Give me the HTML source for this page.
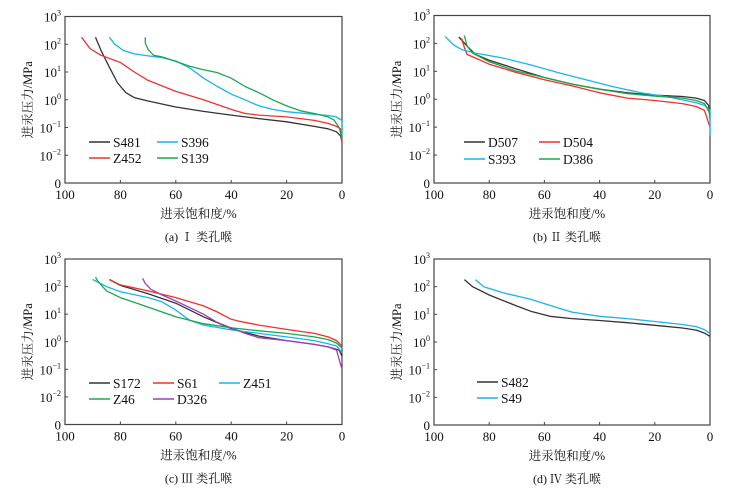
<!DOCTYPE html>
<html><head><meta charset="utf-8">
<style>
html,body{margin:0;padding:0;background:#fff;}
svg{display:block;}
</style></head>
<body>
<svg id="chart" width="755" height="490" viewBox="0 0 755 490" xmlns="http://www.w3.org/2000/svg"></svg>
<script>
// ---- data (saturation %, pressure MPa) ----
const xTicks = [100, 80, 60, 40, 20, 0];
const yTickExp = [3, 2, 1, 0, -1, -2];

const aNames = ["S481", "Z452", "S396", "S139"];
const aS481 = [[89,180],[87,60],[84,15],[81,4],[78,1.8],[75,1.2],[70,0.9],[60,0.55],[50,0.38],[40,0.28],[30,0.21],[20,0.16],[10,0.11],[5,0.09],[2,0.07],[0.5,0.05],[0,0.03]];
const aZ452 = [[94,180],[91,70],[87,40],[80,22],[75,10],[70,5],[60,2],[50,1],[40,0.45],[35,0.32],[30,0.28],[20,0.24],[10,0.18],[5,0.14],[2,0.11],[0.5,0.09],[0,0.025]];
const aS396 = [[84,180],[82,100],[79,60],[75,45],[70,38],[65,33],[60,25],[55,14],[50,6],[45,3],[40,1.6],[35,1],[30,0.6],[25,0.45],[20,0.37],[10,0.3],[5,0.27],[2,0.24],[0,0.18],[0,0.05]];
const aS139 = [[71,180],[71,110],[70,65],[68,40],[65,35],[60,24],[55,16],[50,12],[45,9.5],[40,6],[35,3],[30,1.8],[25,1],[20,0.6],[15,0.4],[10,0.32],[5,0.24],[3,0.19],[1,0.1],[0,0.04]];

const bNames = ["D507", "D504", "S393", "D386"];
const bD507 = [[91,170],[88,80],[85,40],[80,25],[70,12],[60,6],[50,3.5],[40,2.3],[30,1.7],[20,1.4],[10,1.25],[5,1.1],[2,0.9],[0.5,0.6],[0,0.2]];
const bD504 = [[90,150],[89,70],[88,40],[85,30],[80,18],[70,9],[60,5],[50,3],[40,1.7],[30,1.1],[20,0.9],[10,0.7],[5,0.55],[2,0.4],[0,0.1]];
const bS393 = [[96,180],[93,90],[90,60],[85,45],[75,30],[65,17],[55,9],[45,5],[35,2.8],[25,1.7],[15,1.2],[10,0.95],[5,0.75],[2,0.6],[0,0.4],[0,0.05]];
const bD386 = [[89,190],[88,80],[86,45],[80,22],[70,10],[60,6],[50,3.5],[40,2.3],[30,1.6],[20,1.3],[10,1.1],[5,0.9],[2,0.7],[0,0.3]];

const cNames = ["S172", "S61", "Z451", "Z46", "D326"];
const cS172 = [[84,180],[80,110],[70,55],[60,25],[50,8],[40,3],[30,1.6],[20,1.1],[10,0.8],[5,0.65],[1,0.5],[0,0.3]];
const cS61 = [[84,180],[80,115],[70,70],[60,40],[50,20],[45,12],[40,6.5],[37,5.5],[30,4],[20,2.8],[10,2],[5,1.5],[2,1.1],[0,0.7]];
const cZ451 = [[90,180],[85,100],[80,65],[70,40],[65,28],[60,14],[55,6],[50,4],[40,2.7],[30,2],[20,1.5],[10,1.1],[5,0.85],[2,0.7],[0,0.4]];
const cZ46 = [[89,220],[88,150],[85,70],[80,40],[70,18],[60,8],[50,4.5],[40,3.2],[30,2.5],[20,2],[10,1.5],[5,1.2],[2,0.9],[0,0.6]];
const cD326 = [[72,200],[71,130],[69,80],[65,50],[60,30],[50,10],[45,5],[40,3.2],[35,2],[30,1.4],[20,1.1],[10,0.8],[5,0.65],[2,0.5],[0,0.1]];

const dNames = ["S482", "S49"];
const dS482 = [[89,180],[86,100],[80,50],[70,20],[65,13],[58,8.5],[50,7],[40,6],[30,5],[20,4],[10,3.2],[5,2.7],[2,2.1],[0,1.6]];
const dS49 = [[85,180],[82,100],[75,60],[65,35],[55,17],[50,12],[40,8.5],[30,7],[20,5.5],[10,4.3],[5,3.6],[2,2.8],[0,2]];

const BLACK="#333", RED="#f0302a", CYAN="#18b4ec", GREEN="#1aa84e", PURPLE="#a040b0";
const SERIF='"Liberation Serif", "Noto Serif CJK SC", serif';
const svg = document.getElementById('chart');
const NS = "http://www.w3.org/2000/svg";
function el(tag, attrs, parent){const e=document.createElementNS(NS,tag);for(const k in attrs)e.setAttribute(k,attrs[k]);if(tag==='text'){e.setAttribute('font-family',SERIF);e.setAttribute('fill','#111');}(parent||svg).appendChild(e);return e;}

function panel(id, L, R, T, B, series, legend, caption){
  const g = el('g',{});
  
  
  const xs = v => L + (100 - v) / 100 * (R - L);
  const ys = p => { const lg = Math.max(Math.log10(p), -3); return B - (lg + 3) / 6 * (B - T); };
  const frame = el('rect',{x:L,y:T,width:R-L,height:B-T,fill:'none',stroke:'#444','stroke-width':1.2},g);
  
  
  xTicks.forEach(v=>{
    el('line',{x1:xs(v),x2:xs(v),y1:B,y2:B-3,stroke:'#444'},g);
    const t = el('text',{x:xs(v),y:B+16,'text-anchor':'middle','font-size':13},g);
    t.textContent = v;
    
    
  });
  yTickExp.forEach(e=>{
    const y = ys(Math.pow(10,e));
    el('line',{x1:L,x2:L+3,y1:y,y2:y,stroke:'#444'},g);
    const t = el('text',{x:L-4,y:y+5,'text-anchor':'end','font-size':13},g);
    t.textContent = '10';
    const s = el('tspan',{dy:-6,'font-size':8},t);
    s.textContent = e<0 ? '\u2212'+(-e) : String(e);
    
    
  });
  const z = el('text',{x:L-4,y:B+5,'text-anchor':'end','font-size':13},g);
  z.textContent='0';
  
  
  series.forEach(s=>{
    const pl = el('polyline',{points:s.data.map(d=>xs(d[0]).toFixed(1)+','+ys(d[1]).toFixed(1)).join(' '),fill:'none',stroke:s.color,'stroke-width':1.3,'stroke-linejoin':'round'},g);
    
    
  });
  legend.forEach(l=>{
    const lg = el('g',{},g);
    
    
    el('line',{x1:l.x,x2:l.x+21,y1:l.y,y2:l.y,stroke:l.color,'stroke-width':1.6},lg);
    const t = el('text',{x:l.x+24,y:l.y+5,'font-size':13.5},lg);
    t.textContent=l.name;
  });
  const yt = el('text',{x:0,y:0,'text-anchor':'middle','font-size':12.5,transform:`translate(${L-33},${(T+B)/2}) rotate(-90)`},g);
  yt.textContent='进汞压力/MPa';
  
  
  const xt = el('text',{x:(L+R)/2-5,y:B+35,'text-anchor':'middle','font-size':12.5},g);
  xt.textContent='进汞饱和度/%';
  
  
  const cp = el('text',{x:(L+R)/2-5,y:B+58,'text-anchor':'middle','font-size':12},g);
  cp.textContent=caption;
  
  
}

panel('a',65,342,16.5,183,
 [{name:aNames[0],data:aS481,color:BLACK},{name:aNames[1],data:aZ452,color:RED},{name:aNames[2],data:aS396,color:CYAN},{name:aNames[3],data:aS139,color:GREEN}],
 [{name:aNames[0],x:89,y:142,color:BLACK},{name:aNames[2],x:157,y:142,color:CYAN},{name:aNames[1],x:89,y:158,color:RED},{name:aNames[3],x:157,y:158,color:GREEN}],
 '(a) Ⅰ 类孔喉');
panel('b',434,710,15.5,183,
 [{name:bNames[0],data:bD507,color:BLACK},{name:bNames[1],data:bD504,color:RED},{name:bNames[2],data:bS393,color:CYAN},{name:bNames[3],data:bD386,color:GREEN}],
 [{name:bNames[0],x:464,y:142,color:BLACK},{name:bNames[1],x:539,y:142,color:RED},{name:bNames[2],x:464,y:159,color:CYAN},{name:bNames[3],x:539,y:159,color:GREEN}],
 '(b) Ⅱ 类孔喉');
panel('c',65,342,259,424.5,
 [{name:cNames[0],data:cS172,color:BLACK},{name:cNames[1],data:cS61,color:RED},{name:cNames[2],data:cZ451,color:CYAN},{name:cNames[3],data:cZ46,color:GREEN},{name:cNames[4],data:cD326,color:PURPLE}],
 [{name:cNames[0],x:89,y:383,color:BLACK},{name:cNames[1],x:153,y:383,color:RED},{name:cNames[2],x:219,y:383,color:CYAN},{name:cNames[3],x:89,y:399,color:GREEN},{name:cNames[4],x:153,y:399,color:PURPLE}],
 '(c) Ⅲ 类孔喉');
panel('d',434,710,259,425,
 [{name:dNames[0],data:dS482,color:BLACK},{name:dNames[1],data:dS49,color:CYAN}],
 [{name:dNames[0],x:477,y:382,color:BLACK},{name:dNames[1],x:477,y:398,color:CYAN}],
 '(d) Ⅳ 类孔喉');
</script>
</body></html>
